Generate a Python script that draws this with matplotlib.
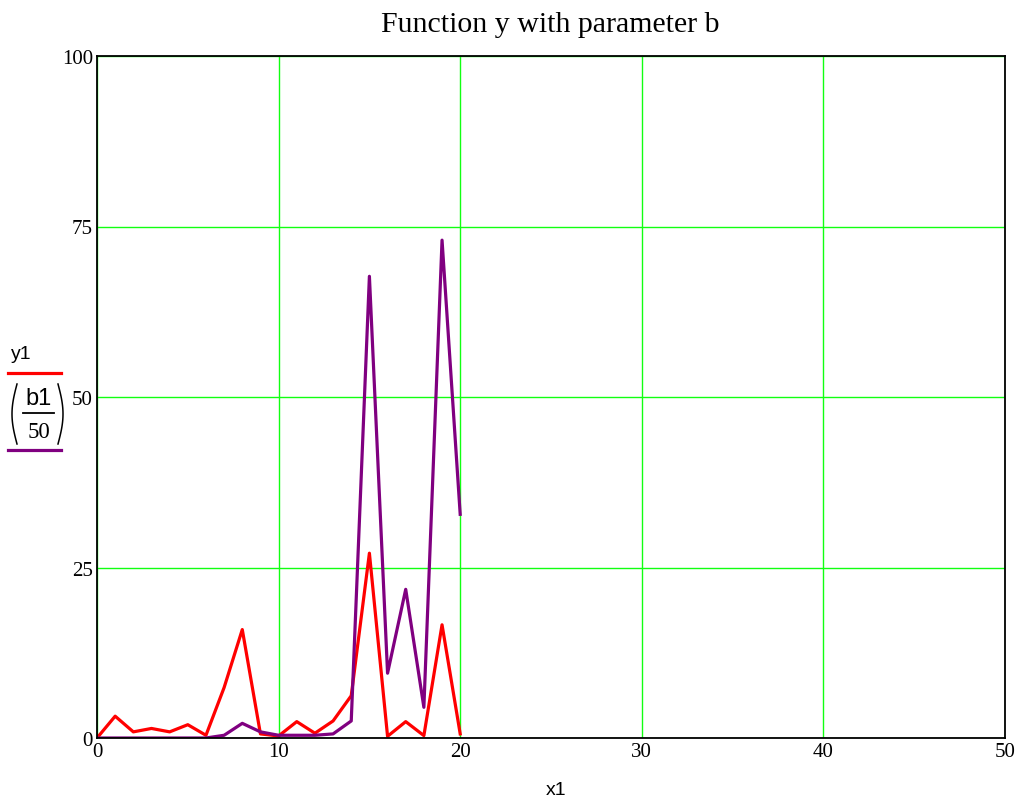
import matplotlib
matplotlib.use("Agg")
import matplotlib.pyplot as plt
import numpy as np
from matplotlib.lines import Line2D

x1 = list(range(21))
y1 = [0.0, 3.2, 0.9, 1.4, 0.9, 1.95, 0.4, 7.4, 15.9, 0.6, 0.3,
      2.4, 0.7, 2.5, 6.2, 27.1, 0.25, 2.4, 0.35, 16.6, 0.6]
b1_50 = [0.0, 0.0, 0.0, 0.0, 0.0, 0.0, 0.0, 0.4, 2.15, 0.9, 0.4,
         0.4, 0.4, 0.6, 2.5, 67.7, 9.5, 21.8, 4.5, 73.0, 32.8]

xticks = [0, 10, 20, 30, 40, 50]
yticks = [0, 25, 50, 75, 100]

W, H = 1026, 803
fig = plt.figure(figsize=(W / 100, H / 100), dpi=100)
ax = fig.add_axes([97 / W, 1 - 739 / H, (1005 - 97) / W, (739 - 57) / H])

ax.plot(x1, y1, color="#ff0000", lw=2.3, zorder=3)
ax.plot(x1, b1_50, color="#800080", lw=2.3, zorder=3)

ax.set_xlim(0, 50)
ax.set_ylim(0, 100)
ax.set_xticks(xticks)
ax.set_yticks(yticks)
ax.grid(True, color="#11ff11", lw=1.0)
ax.tick_params(length=0, labelsize=15, pad=3)
for lab in ax.get_xticklabels() + ax.get_yticklabels():
    lab.set_family("Liberation Serif")
for s in ax.spines.values():
    s.set_linewidth(1.3)
    s.set_zorder(4)

fig.text(550 / W, 1 - 25 / H, "Function y with parameter b", ha="center", va="center",
         fontsize=21.5, family="Liberation Serif")
fig.text(556 / W, 1 - 791 / H, "x1", ha="center", va="center",
         fontsize=14, family="Liberation Sans")


def fig_px(x, y):
    # pixel position (top-left origin) -> figure fraction
    return np.asarray(x) / W, 1 - np.asarray(y) / H


def add_line(xs, ys, **kw):
    fx, fy = fig_px(xs, ys)
    fig.add_artist(Line2D(fx, fy, transform=fig.transFigure, **kw))


# legend on the left
fig.text(*fig_px(21, 355), "y1", ha="center", va="center",
         fontsize=14, family="Liberation Sans")
add_line([8, 61], [374, 374], color="#ff0000", lw=2.3)

fig.text(*fig_px(39, 399), "b1", ha="center", va="center",
         fontsize=17, family="Liberation Sans")
add_line([23, 54], [414, 414], color="black", lw=1.3)
fig.text(*fig_px(39, 433), "50", ha="center", va="center",
         fontsize=16.5, family="Liberation Serif")
t = np.linspace(0, 1, 40)
py = 385 + 60 * t
bulge = 5 * np.sin(np.pi * t)
add_line(17 - bulge, py, color="black", lw=1.1)
add_line(58 + bulge, py, color="black", lw=1.1)

add_line([8, 61], [451, 451], color="#800080", lw=2.3)

fig.savefig("out.png", dpi=100)
